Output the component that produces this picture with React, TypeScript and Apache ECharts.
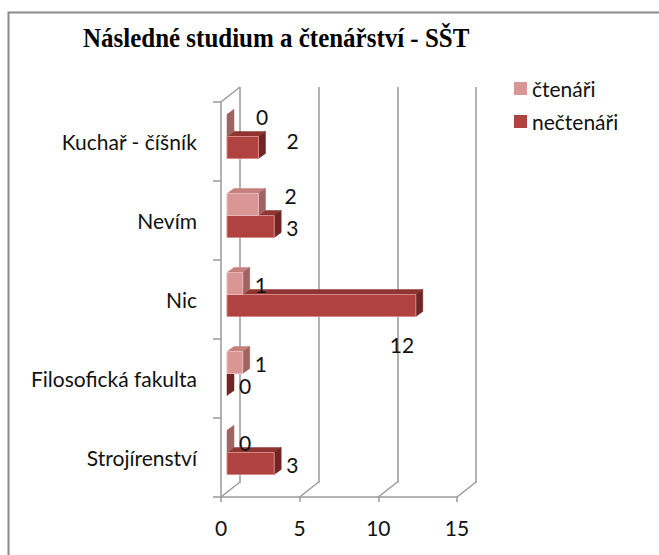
import React, { useEffect, useRef } from "react";
import * as echarts from "echarts";

const title = "Následné studium a čtenářství - SŠT";
const categories = ["Strojírenství", "Filosofická fakulta", "Nic", "Nevím", "Kuchař - číšník"];
const seriesNames = ["čtenáři", "nečtenáři"];
const ctenari = [0, 1, 1, 2, 0];
const nectenari = [3, 0, 12, 3, 2];
const xMin = 0;
const xMax = 15;
const xStep = 5;
const xTicks = [0, 5, 10, 15];

// label nudges (Excel moved some labels)
const labelNudges: Record<string, [number, number]> = {
  "čtenáři|Kuchař - číšník": [17, -10],
  "nečtenáři|Kuchař - číšník": [16, -8],
  "čtenáři|Nevím": [14, -10],
  "nečtenáři|Nic": [-38, 38],
};

const FONT = "Lato";
const FS = 21;
const GRID_LINE = "#9a9a9a";

const lightColors = { front: "#d99694", top: "#c5807e", side: "#9e6462", stroke: "#e7b9b8" };
const darkColors = { front: "#b0423f", top: "#8f3431", side: "#6f2624", stroke: "#d58a88" };

const FRONT = { left: 221, top: 102, width: 236, height: 395 };
const DEPTH = { dx: 19, dy: -15 };

function makeBarRender(name: string, upper: boolean, c: typeof lightColors) {
  return (params: any, api: any) => {
    const val = api.value(0);
    const cat = api.value(1);
    const p0 = api.coord([0, cat]);
    const p1 = api.coord([val, cat]);
    const bh = 22;
    const ox = 6, oy = -5, dx = 7, dy = -5;
    const yt = (upper ? p0[1] - bh : p0[1]) + oy;
    const yb = yt + bh;
    const xl = p0[0] + ox;
    const xr = p1[0] + ox;
    const nudge = labelNudges[name + "|" + categories[cat]] || [0, 0];
    return {
      type: "group",
      children: [
        {
          type: "polygon",
          shape: { points: [[xl, yt], [xr, yt], [xr + dx, yt + dy], [xl + dx, yt + dy]] },
          style: { fill: c.top, stroke: c.top, lineWidth: 0.5 },
        },
        {
          type: "polygon",
          shape: { points: [[xr, yt], [xr + dx, yt + dy], [xr + dx, yb + dy], [xr, yb]] },
          style: { fill: c.side, stroke: c.side, lineWidth: 0.5 },
        },
        {
          type: "rect",
          shape: { x: xl, y: yt, width: Math.max(xr - xl, 0), height: bh },
          style: { fill: c.front, stroke: xr - xl > 0 ? c.stroke : "none", lineWidth: 1 },
        },
        {
          type: "text",
          style: {
            text: String(val),
            x: xr + 12 + nudge[0],
            y: (yt + yb) / 2 + 1 + nudge[1],
            align: "left",
            verticalAlign: "middle",
            font: `${FS}px ${FONT}`,
            fill: "#111",
          },
        },
      ],
    };
  };
}

const diagRender = (params: any, api: any) => {
  const v = api.value(0);
  const cs = params.coordSys;
  const x = api.coord([v, 0])[0];
  const yb = cs.y + cs.height;
  const children: any[] = [
    {
      type: "line",
      shape: { x1: x, y1: yb, x2: x + DEPTH.dx, y2: yb + DEPTH.dy },
      style: { stroke: GRID_LINE, lineWidth: 1.5 },
    },
  ];
  if (v === xMin) {
    children.push({
      type: "line",
      shape: { x1: x, y1: cs.y, x2: x + DEPTH.dx, y2: cs.y + DEPTH.dy },
      style: { stroke: GRID_LINE, lineWidth: 1.5 },
    });
  }
  return { type: "group", children };
};

export default function App() {
  const ref = useRef<HTMLDivElement>(null);
  useEffect(() => {
    if (!ref.current) return;
    const chart = echarts.init(ref.current, undefined, { renderer: "svg" });
    chart.setOption({
      animation: false,
      backgroundColor: "#ffffff",
      legend: {
        orient: "vertical",
        left: 509,
        top: 73,
        itemWidth: 13,
        itemHeight: 13,
        itemGap: 12,
        icon: "rect",
        data: ["čtenáři", "nečtenáři"],
        textStyle: { fontFamily: FONT, fontSize: FS, color: "#111" },
      },
      grid: [
        { ...FRONT },
        { left: FRONT.left + DEPTH.dx, top: FRONT.top + DEPTH.dy, width: FRONT.width, height: FRONT.height + 1 },
      ],
      xAxis: [
        {
          gridIndex: 0,
          type: "value",
          min: xMin,
          max: xMax,
          interval: xStep,
          axisLine: { show: true, lineStyle: { color: GRID_LINE, width: 1.5 } },
          axisTick: { show: true, length: 5, lineStyle: { color: GRID_LINE, width: 1.5 } },
          axisLabel: { fontFamily: FONT, fontSize: FS, color: "#111", margin: 20 },
          splitLine: { show: false },
        },
        {
          gridIndex: 1,
          type: "value",
          min: xMin,
          max: xMax,
          interval: xStep,
          axisLine: { show: false },
          axisTick: { show: false },
          axisLabel: { show: false },
          splitLine: { show: true, lineStyle: { color: GRID_LINE, width: 1.5 } },
        },
      ],
      yAxis: [
        {
          gridIndex: 0,
          type: "category",
          data: categories,
          axisLine: { show: true, lineStyle: { color: GRID_LINE, width: 1.5 } },
          axisTick: { show: true, length: 8, lineStyle: { color: GRID_LINE, width: 1.5 } },
          axisLabel: { fontFamily: FONT, fontSize: FS, color: "#111", margin: 24 },
          splitLine: { show: false },
        },
        {
          gridIndex: 1,
          type: "value",
          show: false,
          splitLine: { show: false },
        },
      ],
      series: [
        {
          type: "custom",
          name: "diag",
          xAxisIndex: 0,
          yAxisIndex: 0,
          data: xTicks.map((t) => [t, 0]),
          encode: { x: 0, y: 1 },
          renderItem: diagRender,
          silent: true,
          z: 1,
        },
        {
          type: "custom",
          name: seriesNames[1],
          xAxisIndex: 0,
          yAxisIndex: 0,
          data: nectenari.map((v, i) => [v, i]),
          encode: { x: 0, y: 1 },
          itemStyle: { color: darkColors.front },
          renderItem: makeBarRender(seriesNames[1], false, darkColors),
          z: 3,
        },
        {
          type: "custom",
          name: seriesNames[0],
          xAxisIndex: 0,
          yAxisIndex: 0,
          data: ctenari.map((v, i) => [v, i]),
          encode: { x: 0, y: 1 },
          itemStyle: { color: lightColors.front },
          renderItem: makeBarRender(seriesNames[0], true, lightColors),
          z: 4,
        },
      ],
      graphic: [
        {
          type: "rect",
          left: 6,
          top: 10,
          shape: { x: 0, y: 0, width: 720, height: 620 },
          style: { fill: "none", stroke: "#8a8a8a", lineWidth: 2 },
          silent: true,
        },
        {
          type: "text",
          x: 83,
          y: 25,
          scaleX: 0.925,
          style: {
            text: title,
            font: "bold 27px 'Liberation Serif'",
            fill: "#000",
            align: "left",
            verticalAlign: "top",
          },
          silent: true,
        },
      ],
    });
    return () => chart.dispose();
  }, []);
  return <div ref={ref} style={{ position: "fixed", left: 0, top: 0, width: 659, height: 555 }} />;
}
